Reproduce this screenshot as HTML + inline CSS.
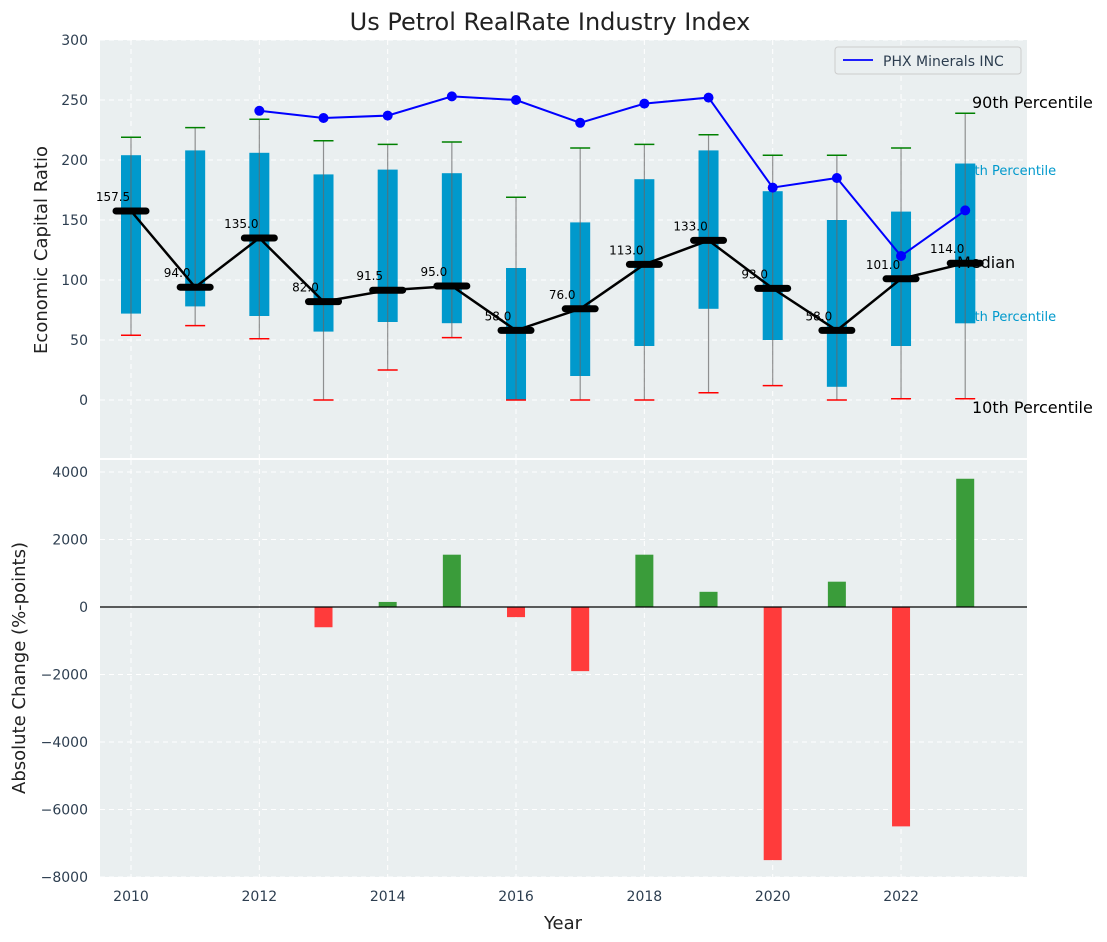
<!DOCTYPE html>
<html><head><meta charset="utf-8">
<style>
body{margin:0;background:#fff;}
svg{display:block;font-family:"DejaVu Sans","Liberation Sans",sans-serif;}
</style></head>
<body>
<svg id="chart" width="1107" height="942" xmlns="http://www.w3.org/2000/svg"></svg>
<script>
const years=[2010,2011,2012,2013,2014,2015,2016,2017,2018,2019,2020,2021,2022,2023];
const p10=[54,62,51,0,25,52,0,0,0,6,12,0,1,1];
const q1=[72,78,70,57,65,64,0,20,45,76,50,11,45,64];
const medians=[157.5,94,135,82,91.5,95,58,76,113,133,93,58,101,114];
const q3=[204,208,206,188,192,189,110,148,184,208,174,150,157,197];
const p90=[219,227,234,216,213,215,169,210,213,221,204,204,210,239];
const phxYears=[2012,2013,2014,2015,2016,2017,2018,2019,2020,2021,2022,2023];
const phxValues=[241,235,237,253,250,231,247,252,177,185,120,158];
const changes=[0,0,0,-600,150,1550,-300,-1900,1550,450,-7500,750,-6500,3800];
const topTicks=[0,50,100,150,200,250,300];
const botTicks=[-8000,-6000,-4000,-2000,0,2000,4000];
const xTicks=[2010,2012,2014,2016,2018,2020,2022];

const svgRoot=document.getElementById('chart');
const NS='http://www.w3.org/2000/svg';
function el(tag,attrs,parent,text){const e=document.createElementNS(NS,tag);for(const k in attrs)e.setAttribute(k,attrs[k]);if(text!==undefined)e.textContent=text;(parent||svgRoot).appendChild(e);return e;}
const L=100,R=1027;
const x=v=>131+(v-2010)*64.17;
const yT=v=>400-v*1.2;
const yB=v=>607-v*0.03375;
const T0=40,T1=458,B0=460,B1=877;

const topPanel=el('g',{});


el('rect',{x:L,y:T0,width:R-L,height:T1-T0,fill:'#eaeff0'},topPanel);
const grid=el('g',{stroke:'#fff','stroke-dasharray':'5,4','stroke-width':1},topPanel);
topTicks.forEach(t=>el('line',{x1:L,x2:R,y1:yT(t),y2:yT(t)},grid));
xTicks.forEach(t=>el('line',{x1:x(t),x2:x(t),y1:T0,y2:T1},grid));
topTicks.forEach(t=>{const e=el('text',{x:L-12,y:yT(t)+5,'text-anchor':'end','font-size':14,fill:'#2d3e50'},topPanel,t);

});
years.forEach((yr,i)=>{
  const g=el('g',{},topPanel);
  
  
  const cx=x(yr);
  el('rect',{x:cx-10,y:yT(q3[i]),width:20,height:yT(q1[i])-yT(q3[i]),fill:'#0099cc'},g);
  el('line',{x1:cx,x2:cx,y1:yT(p90[i]),y2:yT(p10[i]),stroke:'#666','stroke-opacity':0.7,'stroke-width':1.2},g);
  el('line',{x1:cx-10,x2:cx+10,y1:yT(p90[i]),y2:yT(p90[i]),stroke:'green','stroke-width':1.5},g);
  el('line',{x1:cx-10,x2:cx+10,y1:yT(p10[i]),y2:yT(p10[i]),stroke:'red','stroke-width':1.5},g);
});
const lab1=[['75th Percentile',958,175,'#0099cc',13],['25th Percentile',958,321,'#0099cc',13]];
lab1.forEach(l=>{const e=el('text',{x:l[1],y:l[2],'font-size':l[4],fill:l[3]},svgRoot,l[0]);

});
el('rect',{x:x(2023)-10,y:yT(q3[13]),width:20,height:yT(q1[13])-yT(q3[13]),fill:'#0099cc'});
el('line',{x1:x(2023),x2:x(2023),y1:yT(q3[13]),y2:yT(q1[13]),stroke:'#666','stroke-opacity':0.7,'stroke-width':1.2});
const lab2=[['90th Percentile',972,108,'#000',16],['Median',957,268,'#000',16],['10th Percentile',972,413,'#000',16]];
lab2.forEach(l=>{const e=el('text',{x:l[1],y:l[2],'font-size':l[4],fill:l[3]},svgRoot,l[0]);

});
const ml=el('polyline',{points:years.map((yr,i)=>x(yr)+','+yT(medians[i])).join(' '),fill:'none',stroke:'#000','stroke-width':2.5});


years.forEach((yr,i)=>{
  const m=el('line',{x1:x(yr)-15,x2:x(yr)+15,y1:yT(medians[i]),y2:yT(medians[i]),stroke:'#000','stroke-width':7,'stroke-linecap':'round'});
  
  
  const t=el('text',{x:x(yr)-18,y:yT(medians[i])-10,'text-anchor':'middle','font-size':12,fill:'#000'},svgRoot,medians[i].toFixed(1));
  
  
});
const pl=el('polyline',{points:phxYears.map((yr,i)=>x(yr)+','+yT(phxValues[i])).join(' '),fill:'none',stroke:'#0000ff','stroke-width':2});


phxYears.forEach((yr,i)=>{const c=el('circle',{cx:x(yr),cy:yT(phxValues[i]),r:5,fill:'#0000ff'});

});
const lg=el('g',{});


el('rect',{x:835,y:47,width:186,height:27,rx:3,fill:'#eaeff0',stroke:'#ccc'},lg);
el('line',{x1:843,x2:873,y1:60,y2:60,stroke:'#0000ff','stroke-width':1.8},lg);
el('text',{x:883,y:66,'font-size':14,fill:'#2d3e50'},lg,'PHX Minerals INC');
const ti=el('text',{x:550,y:30,'text-anchor':'middle','font-size':24,fill:'#222'},svgRoot,'Us Petrol RealRate Industry Index');


const yl=el('text',{x:0,y:0,transform:'translate(47,250) rotate(-90)','text-anchor':'middle','font-size':18,fill:'#222'},svgRoot,'Economic Capital Ratio');



const botPanel=el('g',{});


el('rect',{x:L,y:B0,width:R-L,height:B1-B0,fill:'#eaeff0'},botPanel);
const g2=el('g',{stroke:'#fff','stroke-dasharray':'5,4','stroke-width':1},botPanel);
botTicks.forEach(t=>el('line',{x1:L,x2:R,y1:yB(t),y2:yB(t)},g2));
xTicks.forEach(t=>el('line',{x1:x(t),x2:x(t),y1:B0,y2:B1},g2));
years.forEach((yr,i)=>{
  const v=changes[i];if(v===0)return;
  const b=el('rect',{x:x(yr)-9,y:Math.min(yB(v),yB(0)),width:18,height:Math.abs(yB(v)-yB(0)),fill:v>0?'#3a9c3a':'#ff3b3b'},botPanel);
  
  
});
el('line',{x1:L,x2:R,y1:yB(0),y2:yB(0),stroke:'#000','stroke-width':1.2},botPanel);
botTicks.forEach(t=>{const e=el('text',{x:L-12,y:yB(t)+5,'text-anchor':'end','font-size':14,fill:'#2d3e50'},botPanel,String(t).replace('-','\u2212'));

});
xTicks.forEach(t=>{const e=el('text',{x:x(t),y:B1+24,'text-anchor':'middle','font-size':14,fill:'#2d3e50'},botPanel,t);

});
const xl=el('text',{x:563,y:929,'text-anchor':'middle','font-size':18,fill:'#222'},svgRoot,'Year');


const yl2=el('text',{x:0,y:0,transform:'translate(25,668) rotate(-90)','text-anchor':'middle','font-size':18,fill:'#222'},svgRoot,'Absolute Change (%-points)');


</script>
</body></html>
